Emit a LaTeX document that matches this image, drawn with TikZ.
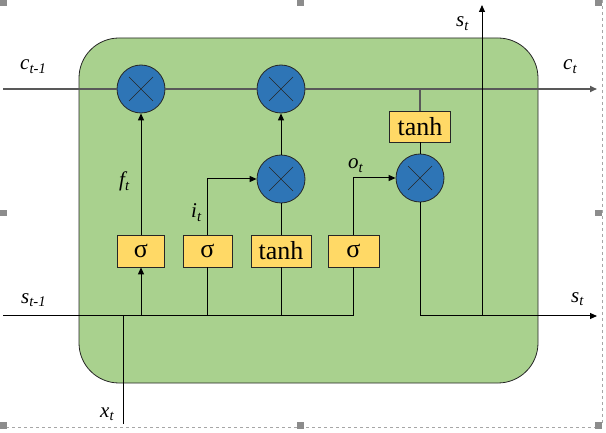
\documentclass[tikz,border=0pt]{standalone}
\usepackage{fontspec}
\setmainfont{Liberation Serif}
\newfontfamily\tnr{Liberation Serif}
\usetikzlibrary{arrows.meta}
\definecolor{cellgreen}{HTML}{A9D18E}
\definecolor{opblue}{HTML}{2E75B6}
\definecolor{gateyellow}{HTML}{FFD966}
\definecolor{cgray}{HTML}{595959}
\begin{document}
\begin{tikzpicture}[x=1pt,y=-1pt,
  mult/.style={circle,draw=black!85,fill=opblue,minimum size=48pt,inner sep=0pt,line width=0.8pt,
    path picture={\draw[black!85,line width=0.7pt]
      ([xshift=-12pt,yshift=-12pt]path picture bounding box.center) -- ([xshift=12pt,yshift=12pt]path picture bounding box.center)
      ([xshift=-12pt,yshift=12pt]path picture bounding box.center) -- ([xshift=12pt,yshift=-12pt]path picture bounding box.center);}},
  gate/.style={draw=black!85,fill=gateyellow,minimum height=32pt,inner sep=0pt,font=\tnr\fontsize{26}{26}\selectfont,line width=0.8pt},
  lbl/.style={anchor=base west,inner sep=0pt,font=\tnr\fontsize{21}{21}\selectfont\itshape},
  conn/.style={black,line width=1pt},
  arr/.style={conn,-{Triangle[length=7pt,width=6pt]}},
  cline/.style={cgray,line width=1.6pt},
  handle/.style={fill=gray!90,draw=none},
  frame/.style={gray!70,dashed,line width=0.6pt},
]
\useasboundingbox (0,0) rectangle (606,433);
% cell body
\draw[fill=cellgreen,draw=black!85,line width=0.8pt,rounded corners=40pt] (79,38) rectangle (538,383);
% endpoints
\coordinate (cin) at (3,89);
\coordinate (cout) at (597,89);
\coordinate (sin) at (3,316);
\coordinate (sout) at (597,316);
\coordinate (xin) at (123,424);
\coordinate (stop) at (482,5);
% operators and gates
\node[mult] (m1) at (141,89) {};
\node[mult] (m2) at (281,89) {};
\node[mult] (m3) at (281,179) {};
\node[mult] (m4) at (420,178) {};
\node[gate,minimum width=47pt] (g1) at (141,251) {σ};
\node[gate,minimum width=49pt] (g2) at (207.5,251) {σ};
\node[gate,minimum width=60pt] (g3) at (281,251) {tanh};
\node[gate,minimum width=51pt] (g4) at (353.5,251) {σ};
\node[gate,minimum width=61pt,minimum height=31pt] (g5) at (420,126.5) {tanh};
% cell state line
\draw[cline] (cin) -- (m1.west);
\draw[cline] (m1.east) -- (m2.west);
\draw[cline,-{Triangle[length=7pt,width=6pt]}] (m2.east) -- (cout);
\draw[cline] (g5.north |- cout) -- (g5.north);
% gate connections
\draw[arr] (g1.north) -- (m1.south);
\draw[arr] (g2.north) |- (m3.west);
\draw[conn] (g3.north) -- (m3.south);
\draw[arr] (m3.north) -- (m2.south);
\draw[arr] (g4.north) |- (m4.west);
\draw[conn] (g5.south) -- (m4.north);
% hidden state / input lines
\draw[conn] (sin) -- (g4.south |- sin) -- (g4.south);
\draw[conn] (g3.south |- sin) -- (g3.south);
\draw[conn] (g2.south |- sin) -- (g2.south);
\draw[arr] (g1.south |- sin) -- (g1.south);
\draw[conn] (xin) -- (xin |- sin);
\draw[arr] (m4.south) |- (sout);
\draw[arr] (stop |- sout) -- (stop);
% labels
\node[lbl] (lc0) at (20,70) {c\textsubscript{t-1}};
\node[lbl] (lc1) at (563,70) {c\textsubscript{t}};
\node[lbl] (ls1) at (456,27) {s\textsubscript{t}};
\node[lbl] (ls0) at (21,303) {s\textsubscript{t-1}};
\node[lbl] (ls2) at (571,302) {s\textsubscript{t}};
\node[lbl] (lx) at (100,417) {x\textsubscript{t}};
\node[lbl] (lf) at (119,187) {f\textsubscript{t}};
\node[lbl] (li) at (191,218) {i\textsubscript{t}};
\node[lbl] (lo) at (348,169) {o\textsubscript{t}};
% selection frame
\draw[frame] (0,427.5) -- (597,427.5);
\draw[frame] (602,0) -- (602,424);
\foreach \hx/\hy in {0/0,297/0,595/0,0/210,595/210,0/422,297/422,595/422}
  \fill[handle] (\hx,\hy) rectangle ++(6.5,6.5);
\end{tikzpicture}
\end{document}
